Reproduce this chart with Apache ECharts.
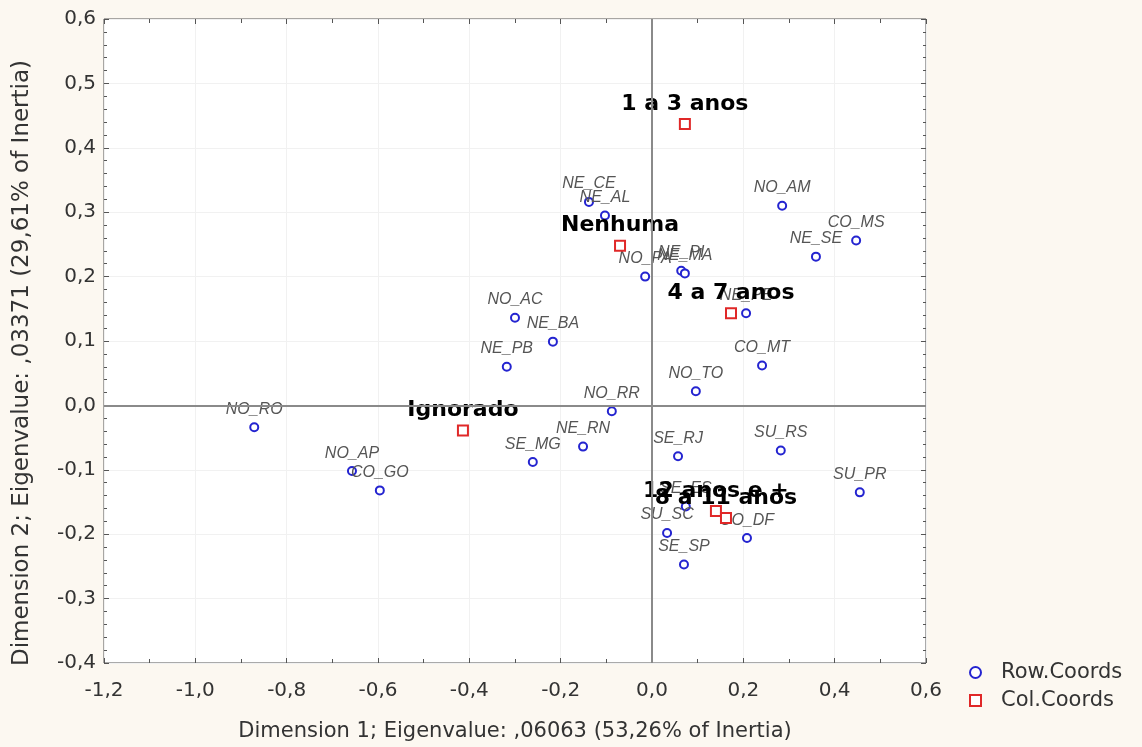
<!DOCTYPE html>
<html><head><meta charset="utf-8">
<script src="https://cdn.jsdelivr.net/npm/echarts@6/dist/echarts.min.js"></script>
<style>html,body{margin:0;padding:0;background:#fcf8f1}#c{width:1142px;height:747px}</style>
</head><body><div id="c"></div>
<script>
const rowNames = ["NO_RO","NO_AP","CO_GO","SE_MG","NE_RN","NO_RR","NO_AC","NE_BA","NE_PB","NE_CE","NE_AL","NO_PA","NE_PI","NE_MA","NO_AM","NE_SE","CO_MS","NE_PE","CO_MT","NO_TO","SE_RJ","SU_RS","SU_PR","SE_ES","SU_SC","SE_SP","CO_DF"];
const rowX = [-0.871,-0.657,-0.596,-0.261,-0.151,-0.088,-0.300,-0.217,-0.318,-0.138,-0.103,-0.015,0.064,0.072,0.285,0.359,0.447,0.206,0.241,0.096,0.057,0.282,0.455,0.074,0.033,0.070,0.208];
const rowY = [-0.034,-0.102,-0.132,-0.088,-0.064,-0.009,0.136,0.099,0.060,0.316,0.295,0.200,0.209,0.205,0.310,0.231,0.256,0.143,0.062,0.022,-0.079,-0.070,-0.135,-0.157,-0.198,-0.247,-0.206];
const colNames = ["1 a 3 anos","Nenhuma","4 a 7 anos","Ignorado","12 anos e +","8 a 11 anos"];
const colX = [0.072,-0.070,0.173,-0.414,0.140,0.162];
const colY = [0.437,0.248,0.143,-0.039,-0.164,-0.175];
const xTitle = "Dimension 1; Eigenvalue: ,06063 (53,26% of Inertia)";
const yTitle = "Dimension 2; Eigenvalue: ,03371 (29,61% of Inertia)";

const fmt = v => v.toFixed(1).replace('.', ',');
const rowData = rowNames.map((n,i)=>[rowX[i],rowY[i],n]);
const colData = colNames.map((n,i)=>[colX[i],colY[i],n]);
const SANS = '"Liberation Sans", Arial, sans-serif';
const WIDE = '"DejaVu Sans", sans-serif';

const baseX = {min:-1.2,max:0.6,interval:0.2};
const baseY = {min:-0.4,max:0.6,interval:0.1};
const tick = {show:true,inside:true,length:5,lineStyle:{color:'#555'}};
const chart = echarts.init(document.getElementById('c'));
chart.setOption({
  backgroundColor:'#fcf8f1',
  animation:false,
  textStyle:{fontFamily:WIDE},
  grid:{left:104,right:216,top:19,bottom:83,show:true,backgroundColor:'#ffffff',borderColor:'#555',borderWidth:1},
  legend:{
    orient:'vertical',left:964,top:657,itemGap:7,itemWidth:11,itemHeight:11,
    textStyle:{fontFamily:WIDE,fontSize:21,color:'#333',padding:[0,0,0,15]},
    data:['Row.Coords','Col.Coords']
  },
  xAxis:[
    Object.assign({type:'value',position:'bottom',
      name:xTitle,nameLocation:'middle',nameGap:58,
      nameTextStyle:{fontFamily:WIDE,fontSize:21,color:'#333'},
      axisLine:{show:false,onZero:false},
      axisTick:tick,
      minorTick:{show:true,splitNumber:2,length:4,lineStyle:{color:'#555'}},
      axisLabel:{formatter:fmt,fontFamily:WIDE,fontSize:20,color:'#333',margin:18},
      splitLine:{show:true,lineStyle:{color:'#f1f1f1',width:1}}},baseX),
    Object.assign({type:'value',position:'top',
      axisLine:{show:false,onZero:false},axisLabel:{show:false},
      axisTick:tick,
      minorTick:{show:true,splitNumber:2,length:4,lineStyle:{color:'#555'}},
      splitLine:{show:false}},baseX)
  ],
  yAxis:[
    Object.assign({type:'value',position:'left',
      name:yTitle,nameLocation:'middle',nameGap:70,nameRotate:90,
      nameTextStyle:{fontFamily:WIDE,fontSize:23,color:'#333',padding:[0,44,0,0]},
      axisLine:{show:false,onZero:false},
      axisTick:tick,
      minorTick:{show:true,splitNumber:5,length:3,lineStyle:{color:'#555'}},
      axisLabel:{formatter:fmt,fontFamily:WIDE,fontSize:20,color:'#333',margin:8},
      splitLine:{show:true,lineStyle:{color:'#f1f1f1',width:1}}},baseY),
    Object.assign({type:'value',position:'right',
      axisLine:{show:false,onZero:false},axisLabel:{show:false},
      axisTick:tick,
      minorTick:{show:true,splitNumber:5,length:3,lineStyle:{color:'#555'}},
      splitLine:{show:false}},baseY)
  ],
  series:[
    {
      name:'Row.Coords',type:'scatter',xAxisIndex:0,yAxisIndex:0,
      symbol:'emptyCircle',symbolSize:8,
      itemStyle:{color:'#2424d0',borderColor:'#2424d0',borderWidth:2,opacity:1},
      data:rowData,
      label:{show:true,position:'top',distance:5,formatter:p=>p.data[2],
        fontFamily:SANS,fontStyle:'italic',fontSize:16,color:'#555'},
      markLine:{silent:true,symbol:'none',label:{show:false},
        lineStyle:{color:'#8a8a8a',width:2,type:'solid'},
        data:[{xAxis:0},{yAxis:0}]},
      z:3
    },
    {
      name:'Col.Coords',type:'scatter',xAxisIndex:0,yAxisIndex:0,
      symbol:'emptyRect',symbolSize:10,
      itemStyle:{color:'#e02828',borderColor:'#e02828',borderWidth:2,opacity:1},
      data:colData,
      label:{show:true,position:'top',distance:3,formatter:p=>p.data[2],
        fontFamily:WIDE,fontWeight:'bold',fontSize:22,color:'#000'},
      z:4
    }
  ]
});
</script></body></html>
